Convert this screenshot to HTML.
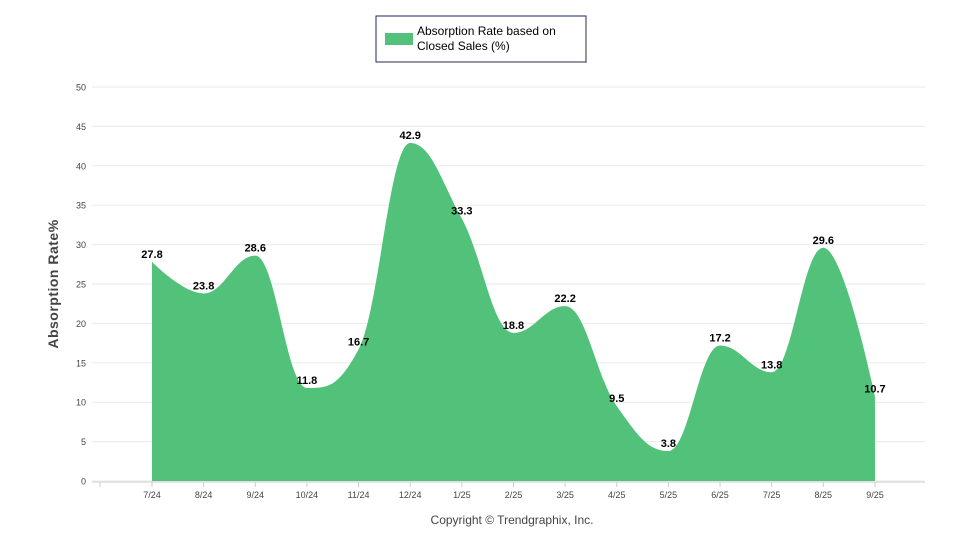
<!DOCTYPE html>
<html><head><meta charset="utf-8"><style>
body{margin:0;background:#fff;width:960px;height:550px;overflow:hidden;font-family:"Liberation Sans",sans-serif}
</style></head><body>
<svg id="s" width="960" height="550" xmlns="http://www.w3.org/2000/svg" font-family="Liberation Sans, sans-serif">
<rect x="376" y="16" width="210" height="46" fill="#fff" stroke="#1a2a6c" stroke-width="1"/>
<line x1="378" y1="62.5" x2="587" y2="62.5" stroke="#999" stroke-width="1"/>
<line x1="586.5" y1="18" x2="586.5" y2="62" stroke="#999" stroke-width="1"/>
<rect x="385" y="33" width="28" height="12" fill="#52c17a"/>
<text x="417" y="35" font-size="12" fill="#000">Absorption Rate based on</text>
<text x="417" y="50" font-size="12" fill="#000">Closed Sales (%)</text>
<g id="grid"></g>
<path id="area" fill="#52c17a"/>
<g id="labels"></g>
<text transform="translate(58,284) rotate(-90)" text-anchor="middle" font-size="14" font-weight="bold" fill="#444" letter-spacing="0.5">Absorption Rate%</text>
<text x="512" y="524" text-anchor="middle" font-size="12" fill="#444">Copyright © Trendgraphix, Inc.</text>
</svg>
<script>
var v=[27.8,23.8,28.6,11.8,16.7,42.9,33.3,18.8,22.2,9.5,3.8,17.2,13.8,29.6,10.7];
var lb=["7/24","8/24","9/24","10/24","11/24","12/24","1/25","2/25","3/25","4/25","5/25","6/25","7/25","8/25","9/25"];
var X=function(i){return 152+i*51.64},Y=function(d){return 481-d*7.88};
var g='';
for(var k=0;k<=50;k+=5){var y=Y(k);g+='<line x1="92" x2="925" y1="'+y+'" y2="'+y+'" stroke="#eaeaea"/>';
g+='<text x="86" y="'+(y+3.5)+'" text-anchor="end" font-size="9" fill="#444">'+k+'</text>';}
g+='<line x1="92" x2="925" y1="482" y2="482" stroke="#ddd" stroke-width="1.5"/>';
for(var i=-1;i<15;i++){var x=X(i)+ (i<0?0:0);if(i<0)x=100;g+='<line x1="'+x+'" x2="'+x+'" y1="482" y2="487" stroke="#ccc"/>';}
for(var i=0;i<15;i++)g+='<text x="'+X(i)+'" y="498" text-anchor="middle" font-size="9" fill="#444">'+lb[i]+'</text>';
document.getElementById('grid').innerHTML=g;
var P=v.map(function(d,i){return[X(i),Y(d)]});
function cont(i){var p=P[i],a=P[i-1],b=P[i+1];if(!a||!b)return[p,p];
var lx=(1.5*p[0]+a[0])/2.5,ly=(1.5*p[1]+a[1])/2.5,rx=(1.5*p[0]+b[0])/2.5,ry=(1.5*p[1]+b[1])/2.5;
var c=((ry-ly)*(rx-p[0]))/(rx-lx)+p[1]-ry;ly+=c;ry+=c;
if(ly>Math.max(a[1],p[1])||ly<Math.min(a[1],p[1])){ly=Math.max(Math.min(ly,Math.max(a[1],p[1])),Math.min(a[1],p[1]));ry=2*p[1]-ly;}
if(ry>Math.max(b[1],p[1])||ry<Math.min(b[1],p[1])){ry=Math.max(Math.min(ry,Math.max(b[1],p[1])),Math.min(b[1],p[1]));ly=2*p[1]-ry;}
return[[lx,ly],[rx,ry]];}
var d='M'+P[0][0]+' 481 L'+P[0][0]+' '+P[0][1];
for(var i=1;i<15;i++){var c1=cont(i-1)[1],c2=cont(i)[0];d+=' C'+c1[0]+' '+c1[1]+' '+c2[0]+' '+c2[1]+' '+P[i][0]+' '+P[i][1];}
d+=' L'+P[14][0]+' 481 Z';
document.getElementById('area').setAttribute('d',d);
var l='';for(var i=0;i<15;i++)l+='<text x="'+P[i][0]+'" y="'+(P[i][1]-4)+'" text-anchor="middle" font-size="11" font-weight="bold" fill="#000">'+v[i]+'</text>';
document.getElementById('labels').innerHTML=l;
</script>
</body></html>
